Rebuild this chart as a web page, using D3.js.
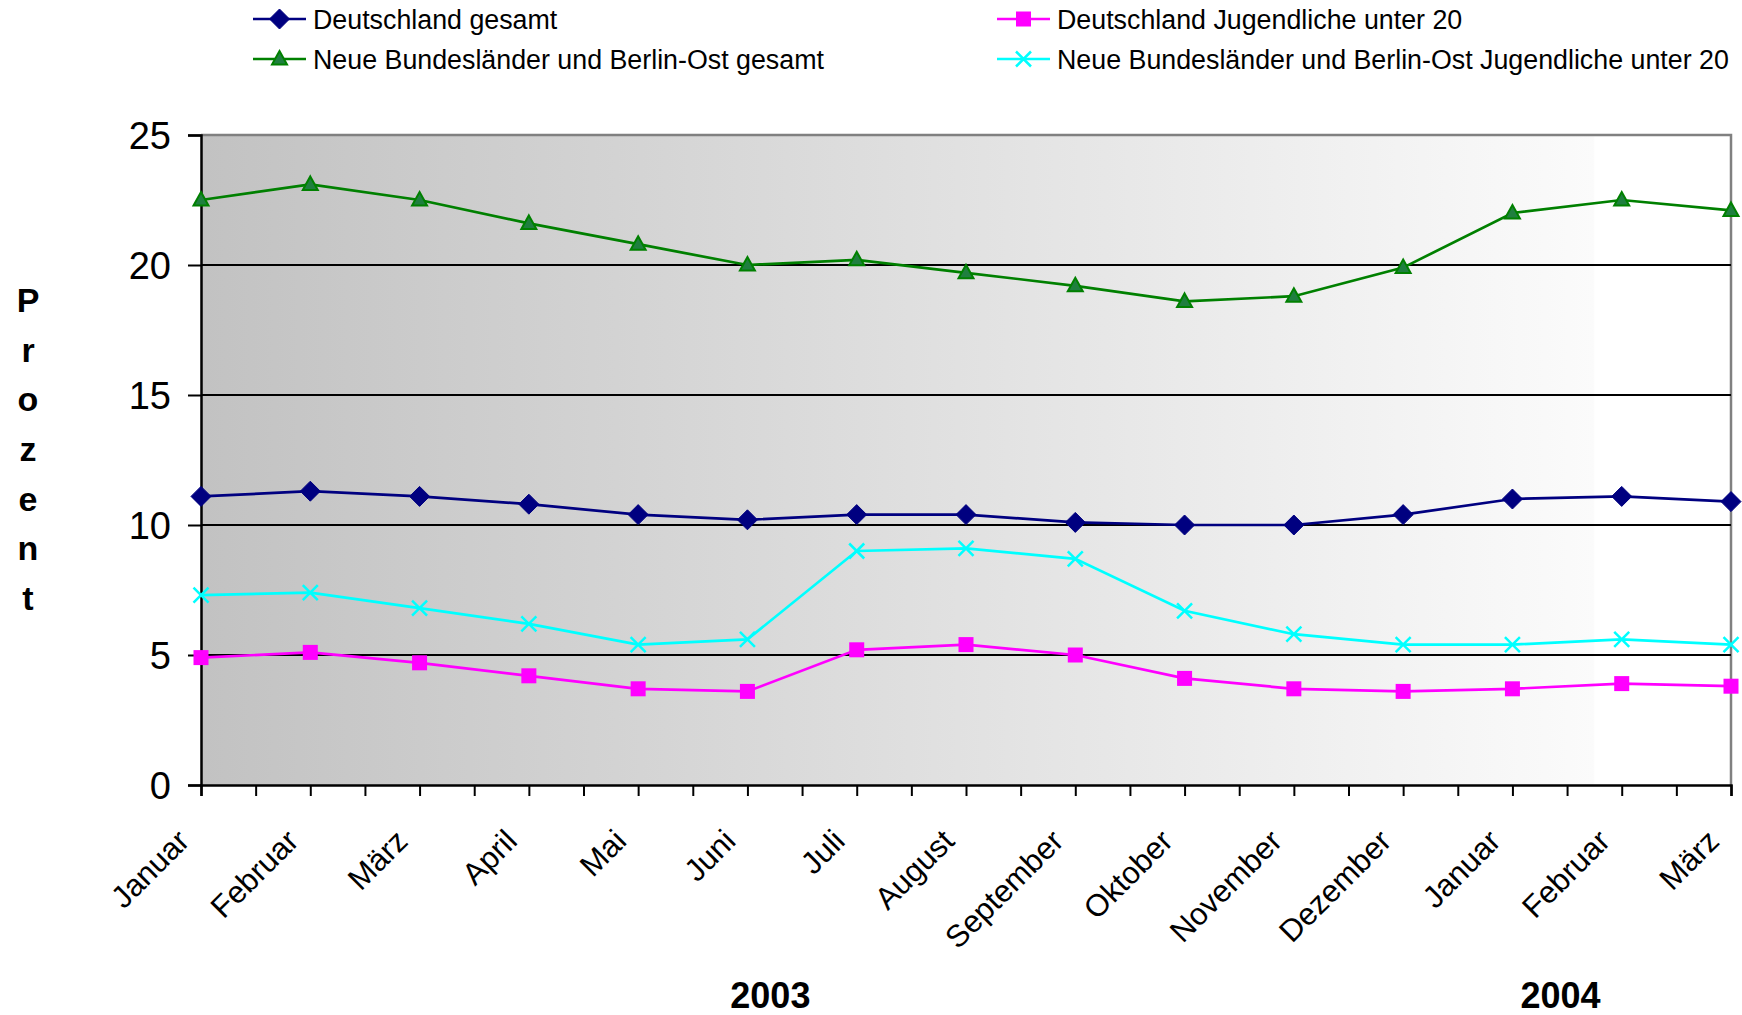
<!DOCTYPE html>
<html><head><meta charset="utf-8">
<script src="https://cdn.jsdelivr.net/npm/d3@7"></script>
<style>
html,body{margin:0;padding:0;background:#fff;}
svg{display:block;font-family:"Liberation Sans",Arial,sans-serif;}
</style></head>
<body>
<svg id="chart" width="1742" height="1015"></svg>
<script>
const months = ["Januar","Februar","März","April","Mai","Juni","Juli","August","September","Oktober","November","Dezember","Januar","Februar","März"];
const years = [{label:"2003", at:5.21}, {label:"2004", at:12.44}];
const deGesamt = [11.1,11.3,11.1,10.8,10.4,10.2,10.4,10.4,10.1,10.0,10.0,10.4,11.0,11.1,10.9];
const deJugend = [4.9,5.1,4.7,4.2,3.7,3.6,5.2,5.4,5.0,4.1,3.7,3.6,3.7,3.9,3.8];
const nblGesamt = [22.5,23.1,22.5,21.6,20.8,20.0,20.2,19.7,19.2,18.6,18.8,19.9,22.0,22.5,22.1];
const nblJugend = [7.3,7.4,6.8,6.2,5.4,5.6,9.0,9.1,8.7,6.7,5.8,5.4,5.4,5.6,5.4];
const yTicks = [0,5,10,15,20,25];
const seriesNames = ["Deutschland gesamt","Deutschland Jugendliche unter 20","Neue Bundesländer und Berlin-Ost gesamt","Neue Bundesländer und Berlin-Ost Jugendliche unter 20"];

const series = [
  {name:seriesNames[0], values:deGesamt, color:"#000080", marker:"diamond"},
  {name:seriesNames[1], values:deJugend, color:"#ff00ff", marker:"square"},
  {name:seriesNames[2], values:nblGesamt, color:"#008000", marker:"triangle"},
  {name:seriesNames[3], values:nblJugend, color:"#00ffff", marker:"x"}
];

const svg = d3.select("#chart");
const L = 201, R = 1731, T = 135, B = 785;
const x = d3.scaleLinear().domain([0, months.length-1]).range([L, R]);
const y = d3.scaleLinear().domain([0, 25]).range([B, T]);

// background gradient
const defs = svg.append("defs");
const grad = defs.append("linearGradient").attr("id","bg").attr("x1","0").attr("x2","1").attr("y1","0").attr("y2","0");
grad.append("stop").attr("offset","0").attr("stop-color","#c2c2c2");
grad.append("stop").attr("offset","0.91").attr("stop-color","#fbfbfb");
grad.append("stop").attr("offset","0.911").attr("stop-color","#ffffff");
grad.append("stop").attr("offset","1").attr("stop-color","#ffffff");
svg.append("rect").attr("x",L).attr("y",T).attr("width",R-L).attr("height",B-T).attr("fill","url(#bg)");

// top and right border
svg.append("path").attr("d",`M${L},${T}H${R}V${B}`).attr("fill","none").attr("stroke","#808080").attr("stroke-width",2.5);

// gridlines
svg.append("g").selectAll("line").data(yTicks.filter(d=>d>0 && d<25)).join("line")
  .attr("x1",L).attr("x2",R).attr("y1",d=>y(d)).attr("y2",d=>y(d))
  .attr("stroke","#000").attr("stroke-width",2);

// y axis
const yAxis = svg.append("g").attr("transform",`translate(${L},0)`)
  .call(d3.axisLeft(y).tickValues(yTicks).tickSize(13).tickPadding(17).tickFormat(d3.format("d")));
yAxis.select(".domain").attr("stroke","#000").attr("stroke-width",2.5);
yAxis.selectAll(".tick line").attr("stroke","#000").attr("stroke-width",2);
yAxis.selectAll(".tick text").attr("font-size",38).attr("fill","#000").attr("font-family","'Liberation Sans',Arial,sans-serif").attr("dy","0.36em");

// x axis with half-step ticks
const xAxis = svg.append("g").attr("transform",`translate(0,${B})`)
  .call(d3.axisBottom(x).tickValues(d3.range(0, months.length-0.99, 0.5)).tickSize(11).tickFormat(""));
xAxis.select(".domain").attr("stroke","#000").attr("stroke-width",2.5);
xAxis.selectAll(".tick line").attr("stroke","#000").attr("stroke-width",2);

// x labels rotated
svg.append("g").selectAll("text").data(months).join("text")
  .attr("transform",(d,i)=>`translate(${x(i)-10},${B+58}) rotate(-45)`)
  .attr("text-anchor","end").attr("font-size",31).attr("fill","#000").text(d=>d);

// year labels
svg.append("g").selectAll("text").data(years).join("text")
  .attr("x",d=>x(d.at)).attr("y",1008).attr("text-anchor","middle")
  .attr("font-size",36).attr("font-weight","bold").attr("fill","#000").text(d=>d.label);

// y title stacked letters
const title = "Prozent".split("");
svg.append("g").selectAll("text").data(title).join("text")
  .attr("x",28).attr("y",(d,i)=>300 + i*49.6).attr("dy","0.36em")
  .attr("text-anchor","middle").attr("font-size",34).attr("font-weight","bold").attr("fill","#000").text(d=>d);

// markers
function drawMarker(g, type, color, cx, cy) {
  if (type==="diamond") {
    g.append("path").attr("d",`M${cx},${cy-10}L${cx+10},${cy}L${cx},${cy+10}L${cx-10},${cy}Z`).attr("fill",color).attr("stroke",color).attr("stroke-width",1);
  } else if (type==="square") {
    g.append("rect").attr("x",cx-7.5).attr("y",cy-7.5).attr("width",15).attr("height",15).attr("fill",color);
  } else if (type==="triangle") {
    g.append("path").attr("d",`M${cx},${cy-8}L${cx+7.5},${cy+5.5}L${cx-7.5},${cy+5.5}Z`).attr("fill","#1f7f3f").attr("stroke",color).attr("stroke-width",2);
  } else if (type==="x") {
    g.append("path").attr("d",`M${cx-7.5},${cy-7.5}L${cx+7.5},${cy+7.5}M${cx-7.5},${cy+7.5}L${cx+7.5},${cy-7.5}`).attr("stroke",color).attr("stroke-width",2.5);
  }
}

const line = d3.line().x((d,i)=>x(i)).y(d=>y(d));
const order = [2,0,3,1];
order.forEach(k=>{
  const s = series[k];
  const g = svg.append("g");
  g.append("path").attr("d",line(s.values)).attr("fill","none").attr("stroke",s.color).attr("stroke-width",2.7);
  s.values.forEach((v,i)=>drawMarker(g, s.marker, s.color, x(i), y(v)));
});

// legend
const legendPos = [
  {k:0, lx:253, ly:19},
  {k:1, lx:997, ly:19},
  {k:2, lx:253, ly:59},
  {k:3, lx:997, ly:59}
];
legendPos.forEach(p=>{
  const s = series[p.k];
  const g = svg.append("g");
  g.append("line").attr("x1",p.lx).attr("x2",p.lx+53).attr("y1",p.ly).attr("y2",p.ly).attr("stroke",s.color).attr("stroke-width",2.5);
  drawMarker(g, s.marker, s.color, p.lx+26.5, p.ly);
  g.append("text").attr("x",p.lx+60).attr("y",p.ly).attr("dy","0.36em").attr("font-size",26.8).attr("fill","#000").text(s.name);
});
</script>
</body></html>
